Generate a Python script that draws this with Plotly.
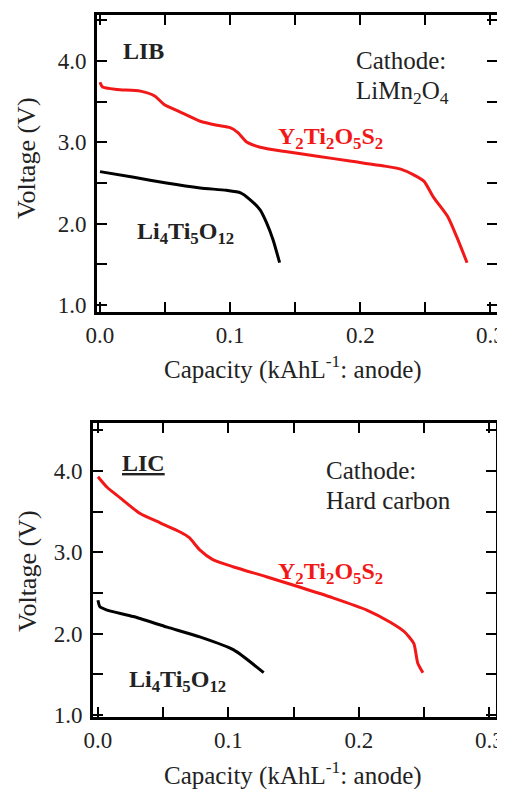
import plotly.graph_objects as go

W, H = 505, 789
OFF = 8  # the page body adds an 8px margin; positions below are in screen pixels

# ---------------- data ----------------
lib_ytos_cap = [0.000, 0.002, 0.013, 0.031, 0.042, 0.049, 0.062, 0.077, 0.090, 0.100, 0.106, 0.113,
                0.123, 0.141, 0.167, 0.192, 0.218, 0.231, 0.241, 0.249, 0.256, 0.267, 0.274, 0.282]
lib_ytos_v = [3.74, 3.68, 3.65, 3.63, 3.57, 3.47, 3.37, 3.26, 3.21, 3.18, 3.12, 3.00,
              2.94, 2.89, 2.83, 2.77, 2.71, 2.67, 2.60, 2.52, 2.33, 2.09, 1.84, 1.52]

lib_lto_cap = [0.000, 0.026, 0.051, 0.077, 0.097, 0.108, 0.115, 0.123, 0.128, 0.133, 0.138]
lib_lto_v = [2.64, 2.57, 2.50, 2.44, 2.41, 2.38, 2.30, 2.17, 2.01, 1.80, 1.52]

lic_ytos_cap = [0.000, 0.007, 0.017, 0.032, 0.048, 0.063, 0.070, 0.078, 0.088, 0.104, 0.129,
                0.155, 0.180, 0.206, 0.224, 0.235, 0.242, 0.245, 0.249]
lic_ytos_v = [3.93, 3.80, 3.67, 3.48, 3.36, 3.25, 3.18, 3.03, 2.91, 2.82, 2.70,
              2.57, 2.44, 2.29, 2.14, 2.02, 1.88, 1.64, 1.52]

lic_lto_cap = [0.000, 0.0015, 0.007, 0.027, 0.053, 0.078, 0.104, 0.127]
lic_lto_v = [2.41, 2.33, 2.29, 2.21, 2.08, 1.96, 1.80, 1.52]

x_major = [0.0, 0.1, 0.2, 0.3]
x_minor = [0.05, 0.15, 0.25]
y_major = [1.0, 2.0, 3.0, 4.0]
y_minor = [1.5, 2.5, 3.5, 4.5]

RED = "#f21818"
TXT = "#222222"
FONT = "'Times New Roman', 'Liberation Serif', 'DejaVu Serif', serif"


def px_x(p):
    return (p - OFF) / W


def px_y(p):
    return 1 - (p - OFF) / H


fig = go.Figure()
line_style = dict(width=3, shape="spline", smoothing=0.6)
fig.add_trace(go.Scatter(x=lib_ytos_cap, y=lib_ytos_v, mode="lines",
                         line=dict(color=RED, **line_style), xaxis="x", yaxis="y", showlegend=False))
fig.add_trace(go.Scatter(x=lib_lto_cap, y=lib_lto_v, mode="lines",
                         line=dict(color="black", **line_style), xaxis="x", yaxis="y", showlegend=False))
fig.add_trace(go.Scatter(x=lic_ytos_cap, y=lic_ytos_v, mode="lines",
                         line=dict(color=RED, **line_style), xaxis="x2", yaxis="y2", showlegend=False))
fig.add_trace(go.Scatter(x=lic_lto_cap, y=lic_lto_v, mode="lines",
                         line=dict(color="black", **line_style), xaxis="x2", yaxis="y2", showlegend=False))

tickfont = dict(family=FONT, size=23, color=TXT)
common = dict(showline=True, linewidth=3, linecolor="black", mirror="allticks",
              ticks="inside", ticklen=10, tickwidth=1.5, tickcolor="black",
              showgrid=False, zeroline=False, tickfont=tickfont, automargin=False,
              tickformat=".1f")
xcommon = dict(tickvals=x_major, minor=dict(tickvals=x_minor, ticks="inside", ticklen=10,
                                            tickwidth=1.5, tickcolor="black", showgrid=False),
               **common)
ycommon = dict(tickvals=y_major, ticklabelstandoff=3,
               minor=dict(tickvals=y_minor, ticks="inside", ticklen=10,
                          tickwidth=1.5, tickcolor="black", showgrid=False),
               **common)

fig.update_layout(
    width=W, height=H,
    margin=dict(l=0, r=0, t=0, b=0),
    font=dict(family=FONT, color=TXT),
    paper_bgcolor="white", plot_bgcolor="white",
    xaxis=dict(domain=[px_x(97), px_x(497)], range=[-0.0023, 0.305], anchor="y", **xcommon),
    yaxis=dict(domain=[px_y(312), px_y(15)], range=[0.914, 4.566], anchor="x", **ycommon),
    xaxis2=dict(domain=[px_x(93), px_x(496)], range=[-0.0038, 0.305], anchor="y2", **xcommon),
    yaxis2=dict(domain=[px_y(717), px_y(423)], range=[0.975, 4.59], anchor="x2", **ycommon),
)


def note(text, x, y, size=25, color=TXT, xanchor="center", angle=0):
    fig.add_annotation(text=text, x=px_x(x), y=px_y(y), xref="paper", yref="paper",
                       showarrow=False, xanchor=xanchor, yanchor="middle", textangle=angle,
                       font=dict(family=FONT, size=size, color=color))


# axis titles
for ty in (367, 773):
    note("Capacity (kAhL<sup>-1</sup>: anode)", 293, ty, size=25)
for ty in (158, 571):
    note("Voltage (V)", 27, ty, size=26, angle=-90)

# top panel
note("<b>LIB</b>", 143, 51, size=24)
note("Cathode:", 354, 61, size=25, xanchor="left")
note("LiMn<sub>2</sub>O<sub>4</sub>", 354, 93, size=25, xanchor="left")
note("<b>Y<sub>2</sub>Ti<sub>2</sub>O<sub>5</sub>S<sub>2</sub></b>", 330, 138, size=24, color=RED)
note("<b>Li<sub>4</sub>Ti<sub>5</sub>O<sub>12</sub></b>", 185, 233, size=24)

# bottom panel
note("<b><u>LIC</u></b>", 143, 463, size=24)
note("Cathode:", 324, 470, size=25, xanchor="left")
note("Hard carbon", 324, 500, size=25, xanchor="left")
note("<b>Y<sub>2</sub>Ti<sub>2</sub>O<sub>5</sub>S<sub>2</sub></b>", 330, 573, size=24, color=RED)
note("<b>Li<sub>4</sub>Ti<sub>5</sub>O<sub>12</sub></b>", 177, 681, size=24)

fig.write_html("out.html")
